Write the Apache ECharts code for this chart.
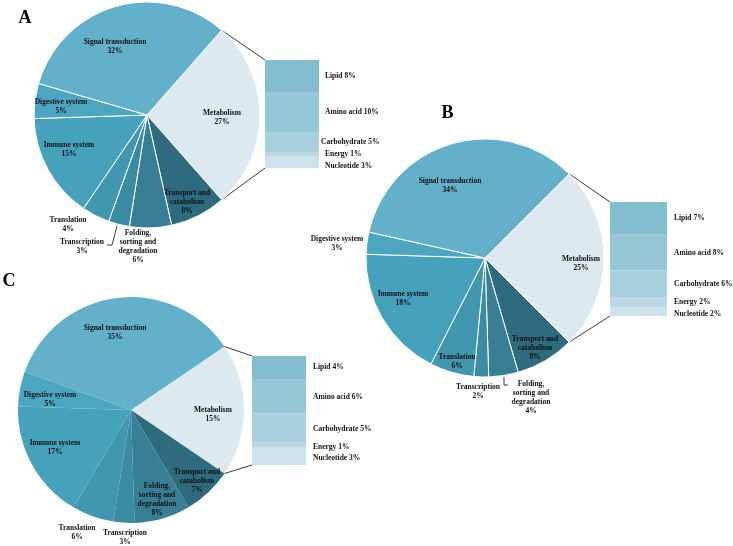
<!DOCTYPE html>
<html><head><meta charset="utf-8">
<script src="https://cdn.jsdelivr.net/npm/echarts@6/dist/echarts.min.js"></script>
<style>html,body{margin:0;padding:0;background:#fff}#c{width:733px;height:546px}</style>
</head><body><div id="c"></div>
<script>
// ---------- data ----------
const sliceNames = ['Metabolism','Transport and catabolism','Folding, sorting and degradation','Transcription','Translation','Immune system','Digestive system','Signal transduction'];
const sliceLabels = ['Metabolism','Transport and\ncatabolism','Folding,\nsorting and\ndegradation','Transcription','Translation','Immune system','Digestive system','Signal transduction'];
const valuesA = [27, 8, 6, 3, 4, 15, 5, 32];
const valuesB = [25, 8, 4, 2, 6, 18, 3, 34];
const valuesC = [19, 7, 8, 3, 6, 17, 5, 35];
const printedA = [27, 8, 6, 3, 4, 15, 5, 32];
const printedB = [25, 8, 4, 2, 6, 18, 3, 34];
const printedC = [15, 7, 8, 3, 6, 17, 5, 35];
const subNames = ['Lipid','Amino acid','Carbohydrate','Energy','Nucleotide'];
const subA = [8, 10, 5, 1, 3];
const subB = [7, 8, 6, 2, 2];
const subC = [4, 6, 5, 1, 3];
const panelLetters = ['A','B','C'];

// ---------- styles / layout ----------
const sliceColors = ['#dce9ef','#2e6b7f','#387f96','#3c8ba4','#4196b0','#46a1bc','#4ca6c1','#62b0ca'];
const subColors = ['#82bdd0','#96c7d7','#a9d0de','#bad9e4','#cde3eb'];
const FONT = 'Liberation Serif, Times New Roman, serif';
const txt = {fontFamily: FONT, fontWeight: 'bold', fontSize: 7.5, color: '#111', lineHeight: 9};

const panels = [
  {values: valuesA, printed: printedA, sub: subA, center: [147, 115], r: 113, border: 1,
   grid: {left: 265, top: 60, width: 54, height: 108}, labelDist: 6,
   labelPos: [[222,117.5],[187,202],[138,247],[82,246.5],[68,224.5],[69,149.5],[61,106.5],[115,47]],
   subOffset: [[0,0],[0,0],[-4,0],[0,0],[0,4]],
   letterPos: [25, 18], leader: [[107,245],[112,245],[117,226]]},
  {values: valuesB, printed: printedB, sub: subB, center: [485, 258], r: 119, border: 1,
   grid: {left: 610, top: 202, width: 57, height: 114}, labelDist: 7,
   labelPos: [[581,263.5],[535,348],[531,397.5],[478,392],[457,361.5],[403,298.5],[337,244],[450,185.5]],
   subOffset: [[0,0],[0,1],[0,0],[0,0],[0,2.5]],
   letterPos: [447.5, 113], leader: [[504,377],[504,385],[508,385]]},
  {values: valuesC, printed: printedC, sub: subC, center: [131, 410], r: 113, border: 0,
   grid: {left: 252, top: 356, width: 54, height: 109}, labelDist: 7,
   labelPos: [[213,415],[197,481],[157,500],[125,537.5],[77,532.5],[55,447.5],[50,399.5],[115,332.5]],
   subOffset: [[0,0],[0,1],[0,1],[0,2],[0,2]],
   letterPos: [9, 281], leader: null}
];

const chart = echarts.init(document.getElementById('c'), null, {renderer: 'canvas'});
const sum = a => a.reduce((s, v) => s + v, 0);

const grids = [], xAxes = [], yAxes = [], series = [];
panels.forEach((p, pi) => {
  const total = sum(p.values);
  series.push({
    type: 'pie', center: p.center, radius: p.r, clockwise: true,
    startAngle: p.values[0] / total * 180,
    avoidLabelOverlap: false, silent: true,
    itemStyle: {borderColor: '#fff', borderWidth: p.border},
    label: Object.assign({show: true, position: 'inside',
      formatter: prm => sliceLabels[prm.dataIndex] + '\n' + p.printed[prm.dataIndex] + '%'}, txt),
    labelLine: {show: false},
    labelLayout: prm => ({x: p.labelPos[prm.dataIndex][0], y: p.labelPos[prm.dataIndex][1], align: 'center', verticalAlign: 'middle'}),
    data: p.values.map((v, i) => ({name: sliceNames[i], value: v, itemStyle: {color: sliceColors[i]}}))
  });
  grids.push(Object.assign({}, p.grid));
  xAxes.push({type: 'category', gridIndex: pi, data: ['Metabolism'], show: false, boundaryGap: true});
  yAxes.push({type: 'value', gridIndex: pi, min: 0, max: sum(p.sub), inverse: true, show: false});
  p.sub.forEach((v, j) => {
    series.push({
      type: 'bar', xAxisIndex: pi, yAxisIndex: pi, stack: 'metab' + pi, barWidth: '100%', silent: true,
      data: [v], itemStyle: {color: subColors[j]},
      label: Object.assign({show: true, position: 'right', distance: p.labelDist,
        formatter: subNames[j] + ' ' + v + '%'}, txt),
      labelLayout: {dx: p.subOffset[j][0], dy: p.subOffset[j][1]}
    });
  });
});

chart.setOption({animation: false, backgroundColor: '#fff', grid: grids, xAxis: xAxes, yAxis: yAxes, series: series});

// connector lines, letters, leader lines
const elements = [];
panels.forEach((p, pi) => {
  const total = sum(p.values);
  const th = p.values[0] / total * Math.PI;
  const [cx, cy] = p.center;
  const topPt = [cx + p.r * Math.cos(th), cy - p.r * Math.sin(th)];
  const botPt = [cx + p.r * Math.cos(th), cy + p.r * Math.sin(th)];
  const yTop = chart.convertToPixel({yAxisIndex: pi}, 0);
  const yBot = chart.convertToPixel({yAxisIndex: pi}, sum(p.sub));
  const xl = p.grid.left;
  elements.push({type: 'line', shape: {x1: topPt[0], y1: topPt[1], x2: xl, y2: yTop}, style: {stroke: '#222', lineWidth: 0.9}, silent: true});
  elements.push({type: 'line', shape: {x1: botPt[0], y1: botPt[1], x2: xl, y2: yBot}, style: {stroke: '#222', lineWidth: 0.9}, silent: true});
  elements.push({type: 'text', x: p.letterPos[0], y: p.letterPos[1], silent: true,
    style: {text: panelLetters[pi], fontFamily: FONT, fontWeight: 'bold', fontSize: 18, fill: '#000', align: 'center', verticalAlign: 'middle'}});
  if (p.leader) elements.push({type: 'polyline', shape: {points: p.leader}, style: {stroke: '#222', lineWidth: 0.9, fill: null}, silent: true});
});
chart.setOption({graphic: {elements: elements}});
</script>
</body></html>
